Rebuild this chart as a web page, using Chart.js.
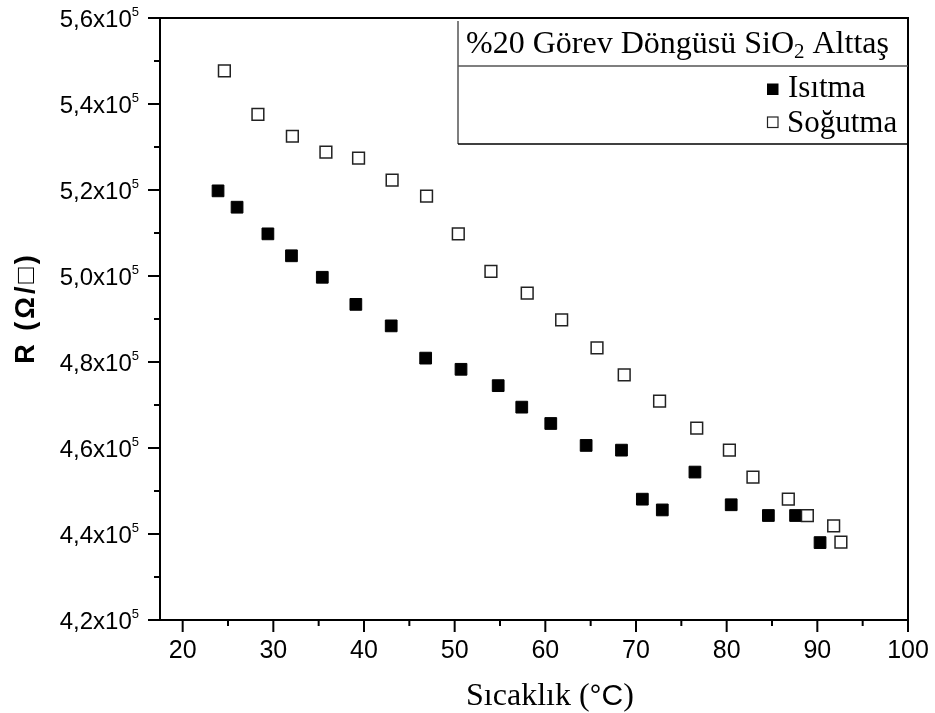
<!DOCTYPE html>
<html lang="tr">
<head>
    <meta charset="UTF-8">
    <title>R - Sıcaklık</title>
    <script src="https://cdn.jsdelivr.net/npm/chart.js"></script>
    <style>
        body {
            margin: 0;
            background: #fff;
        }
        #wrap {
            width: 935px;
            height: 713px;
        }
    </style>
</head>
<body>
    <div id="wrap"><canvas id="chart" width="935" height="713"></canvas></div>

    <script>
        // Heating (filled squares)
        const heatT = [23.9, 26.0, 29.4, 32.0, 35.4, 39.1, 43.0, 46.8, 50.7, 54.8, 57.4,
                       60.6, 64.5, 68.4, 70.7, 72.9, 76.5, 80.5, 84.6, 87.6, 90.3];
        const heatR = [519800, 516000, 509800, 504700, 499700, 493400, 488400, 480900, 478300, 474500, 469500,
                       465700, 460600, 459500, 448100, 445600, 454400, 446800, 444300, 444300, 438000];

        // Cooling (open squares)
        const coolT = [24.6, 28.3, 32.1, 35.8, 39.4, 43.1, 46.9, 50.4, 54.0, 58.0, 61.8,
                       65.7, 68.7, 72.6, 76.7, 80.3, 82.9, 86.8, 88.9, 91.8, 92.6];
        const coolR = [547700, 537600, 532500, 528800, 527400, 522300, 518600, 509800, 501100, 496000, 489800,
                       483300, 477000, 470900, 464600, 459500, 453200, 448100, 444300, 441900, 438100];

        const xTicks = [20, 30, 40, 50, 60, 70, 80, 90, 100];
        const xMinor = [25, 35, 45, 55, 65, 75, 85, 95];
        const yTicks = [420000, 440000, 460000, 480000, 500000, 520000, 540000, 560000];
        const yMinor = [430000, 450000, 470000, 490000, 510000, 530000, 550000];

        const legendTitle = ['%20 Görev Döngüsü SiO', '2', ' Alttaş'];
        const seriesNames = ['Isıtma', 'Soğutma'];
        const xTitle = ['Sıcaklık (', '°C', ')'];
        const yTitle = 'R (Ω/□)';

        const SANS = '"Liberation Sans", Arial, sans-serif';
        const SERIF = '"Liberation Serif", "Times New Roman", serif';

        function pts(xs, ys) {
            return xs.map((v, i) => ({ x: v, y: ys[i] }));
        }

        function line(ctx, x1, y1, x2, y2) {
            ctx.beginPath();
            ctx.moveTo(x1, y1);
            ctx.lineTo(x2, y2);
            ctx.stroke();
        }

        // frame, tick marks, y labels with superscript, axis titles, legend box
        const decor = {
            id: 'decor',
            afterDraw(chart) {
                const { ctx, chartArea: a, scales: { x, y } } = chart;
                ctx.save();
                ctx.strokeStyle = '#000';
                ctx.fillStyle = '#000';
                ctx.lineWidth = 2;
                ctx.strokeRect(a.left, a.top, a.right - a.left, a.bottom - a.top);

                // ticks (outward)
                xTicks.forEach(v => { const p = x.getPixelForValue(v); line(ctx, p, a.bottom, p, a.bottom + 12); });
                xMinor.forEach(v => { const p = x.getPixelForValue(v); line(ctx, p, a.bottom, p, a.bottom + 6); });
                yTicks.forEach(v => { const p = y.getPixelForValue(v); line(ctx, a.left - 12, p, a.left, p); });
                yMinor.forEach(v => { const p = y.getPixelForValue(v); line(ctx, a.left - 6, p, a.left, p); });

                // y tick labels: 5,6x10^5
                ctx.textBaseline = 'alphabetic';
                ctx.textAlign = 'left';
                yTicks.forEach(v => {
                    const p = y.getPixelForValue(v);
                    const main = (v / 1e5).toFixed(1).replace('.', ',') + 'x10';
                    ctx.font = '13px ' + SANS;
                    const ws = ctx.measureText('5').width;
                    ctx.font = '24px ' + SANS;
                    const wm = ctx.measureText(main).width;
                    const right = 139;
                    ctx.fillText(main, right - ws - wm, p + 8.6);
                    ctx.font = '13px ' + SANS;
                    ctx.fillText('5', right - ws, p - 2.5);
                });

                // x title (serif with sans °C)
                ctx.font = '32px ' + SERIF;
                const w1 = ctx.measureText(xTitle[0]).width;
                const w3 = ctx.measureText(xTitle[2]).width;
                ctx.font = '30px ' + SANS;
                const w2 = ctx.measureText(xTitle[1]).width;
                let tx = 550 - (w1 + w2 + w3) / 2;
                ctx.font = '32px ' + SERIF;
                ctx.fillText(xTitle[0], tx, 705);
                ctx.font = '30px ' + SANS;
                ctx.fillText(xTitle[1], tx + w1, 705);
                ctx.font = '32px ' + SERIF;
                ctx.fillText(xTitle[2], tx + w1 + w2, 705);

                // y title
                ctx.save();
                ctx.translate(34, 308);
                ctx.rotate(-Math.PI / 2);
                ctx.font = 'bold 27px ' + SANS;
                ctx.letterSpacing = '3px';
                ctx.textAlign = 'center';
                ctx.fillText(yTitle, 0, 0);
                ctx.restore();

                // legend box
                ctx.lineWidth = 1.5;
                ctx.strokeStyle = '#555';
                line(ctx, 458, 21, 458, 144);
                line(ctx, 458, 66, a.right, 66);
                ctx.strokeStyle = '#000';
                line(ctx, 458, 144, a.right, 144);

                ctx.textAlign = 'left';
                ctx.font = '32px ' + SERIF;
                let lx = 466;
                ctx.fillText(legendTitle[0], lx, 53);
                lx += ctx.measureText(legendTitle[0]).width;
                ctx.font = '21px ' + SERIF;
                ctx.fillText(legendTitle[1], lx, 58);
                lx += ctx.measureText(legendTitle[1]).width;
                ctx.font = '32px ' + SERIF;
                ctx.fillText(legendTitle[2], lx, 53);

                ctx.font = '31px ' + SERIF;
                ctx.fillRect(767, 83.5, 11.5, 11.5);
                ctx.fillText(seriesNames[0], 788, 97);
                ctx.lineWidth = 1.2;
                ctx.strokeStyle = '#222';
                ctx.strokeRect(767.5, 117, 10.5, 10.5);
                ctx.fillText(seriesNames[1], 787, 132);

                ctx.restore();
            }
        };

        new Chart(document.getElementById('chart'), {
            type: 'scatter',
            data: {
                datasets: [
                    {
                        label: seriesNames[0],
                        data: pts(heatT, heatR),
                        pointStyle: 'rect',
                        pointRadius: 8.3,
                        pointHoverRadius: 8.3,
                        backgroundColor: '#000',
                        borderColor: '#000',
                        borderWidth: 1,
                        order: 1
                    },
                    {
                        label: seriesNames[1],
                        data: pts(coolT, coolR),
                        pointStyle: 'rect',
                        pointRadius: 8.3,
                        pointHoverRadius: 8.3,
                        backgroundColor: '#fff',
                        borderColor: '#222',
                        borderWidth: 1.5,
                        order: 0
                    }
                ]
            },
            options: {
                responsive: false,
                animation: false,
                layout: { padding: { top: 18, right: 27, bottom: 0, left: 0 } },
                plugins: {
                    legend: { display: false },
                    tooltip: { enabled: false }
                },
                scales: {
                    x: {
                        type: 'linear',
                        min: 17.5,
                        max: 100,
                        grid: { display: false, drawTicks: false },
                        border: { display: false },
                        ticks: {
                            color: '#000',
                            padding: 16,
                            maxRotation: 0,
                            font: { family: SANS, size: 25 }
                        },
                        afterBuildTicks: s => { s.ticks = xTicks.map(v => ({ value: v })); },
                        afterFit: s => {
                            s.height = 93;
                            s.paddingLeft = 0;
                            s.paddingRight = 0;
                        }
                    },
                    y: {
                        type: 'linear',
                        min: 420000,
                        max: 560000,
                        grid: { display: false, drawTicks: false },
                        border: { display: false },
                        ticks: { display: false },
                        afterBuildTicks: s => { s.ticks = yTicks.map(v => ({ value: v })); },
                        afterFit: s => {
                            s.width = 160;
                            s.paddingTop = 0;
                            s.paddingBottom = 0;
                        }
                    }
                }
            },
            plugins: [decor]
        });
    </script>
</body>
</html>
